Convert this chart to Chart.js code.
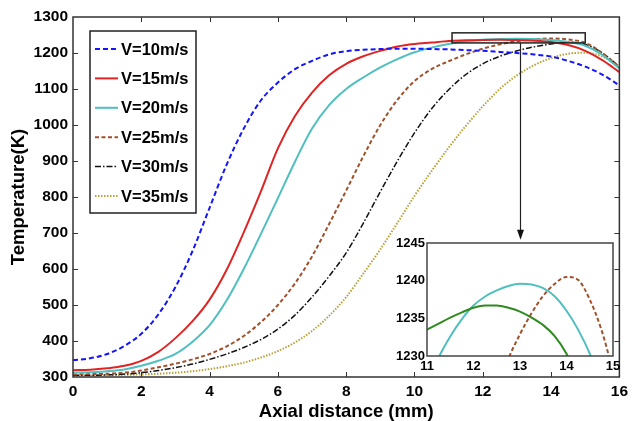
<!DOCTYPE html>
<html><head><meta charset="utf-8">
<script src="https://cdn.jsdelivr.net/npm/chart.js@4/dist/chart.umd.min.js"></script>
<style>
html,body{margin:0;padding:0;background:#fff;}
#wrap{position:relative;width:633px;height:421px;overflow:hidden;}
#main{position:absolute;left:0;top:0;}
#inset{position:absolute;left:380px;top:230px;}
</style></head><body>
<div id="wrap">
<canvas id="main" width="633" height="421"></canvas>
<canvas id="inset" width="250" height="146"></canvas>
</div>
<script>
// ---------- data ----------
const axialX = [0,0.5,1,1.5,2,2.5,3,3.5,4,4.5,5,5.5,6,6.5,7,7.5,8,8.5,9,9.5,10,10.5,11,11.5,12,12.5,13,13.5,14,14.5,15,15.5,16];
const v10 = [347,352,364,386,420,474,550,650,770,890,990,1068,1118,1155,1178,1196,1205,1209,1211,1212,1212,1211,1210,1208,1206,1203,1200,1196,1190,1178,1162,1140,1110];
const v15 = [319,320,324,331,345,370,408,455,515,598,702,815,935,1025,1090,1138,1170,1191,1206,1218,1225,1229,1233.5,1235.1,1236.4,1236.7,1235.9,1234.1,1230.3,1222,1206,1180,1147];
const v20 = [312,313,316,321,331,345,364,398,444,513,600,697,797,898,990,1055,1100,1132,1160,1183,1202,1215,1225,1232.6,1236.7,1238.7,1239.6,1239.0,1236.0,1230.3,1220,1195,1157];
const v25 = [307,308,309,312,318,327,337,349,364,385,414,452,500,560,635,725,818,913,1000,1070,1122,1155,1177,1196,1212,1224,1232.9,1238.0,1240.5,1237.5,1228,1200,1161];
const v30 = [305,305,306,308,312,318,326,336,349,364,382,404,433,472,522,580,645,727,815,900,978,1045,1098,1140,1170,1191,1206,1217,1225,1230,1224,1200,1162];
const v35 = [304,304,305,306,307,309,312,316,322,330,340,354,372,396,428,470,522,587,655,728,803,872,937,997,1052,1100,1138,1166,1186,1198,1201,1190,1163];
const seriesLabels = ['V=10m/s','V=15m/s','V=20m/s','V=25m/s','V=30m/s','V=35m/s'];
const xTicks = [0,2,4,6,8,10,12,14,16];
const yTicks = [300,400,500,600,700,800,900,1000,1100,1200,1300];

const insetX = [11,11.25,11.5,11.75,12,12.25,12.5,12.75,13,13.25,13.5,13.75,14,14.25,14.5,14.75,15];
const insetGreen = [1233.5,1234.3,1235.1,1235.8,1236.4,1236.7,1236.7,1236.4,1235.9,1235.1,1234.1,1232.6,1230.3,1227,1222,1214,1206];
const insetCyan  = [1226,1229.8,1232.6,1234.9,1236.7,1237.9,1238.7,1239.3,1239.6,1239.5,1239.0,1237.9,1236.0,1233.5,1230.3,1226,1220];
const insetBrown = [1175,1185,1193,1202,1214,1219,1225,1229.6,1232.9,1235.7,1238.0,1239.6,1240.5,1240.1,1237.5,1233.5,1228];
const insetXTicks = [11,12,13,14,15];
const insetYTicks = [1230,1235,1240,1245];

// zoom marker (data units)
const zoomBox = {x0:11.1, x1:15.0, y0:1228, y1:1256};
const arrowX = 13.1, arrowTipY = 681;

// ---------- styles ----------
const FONT = "'Liberation Sans', Arial, Helvetica, sans-serif";
const frameColor = '#333';
const styles = [
  {color:'#1414ff', width:2, dash:[5,3]},
  {color:'#e02424', width:2, dash:[]},
  {color:'#4fbfbf', width:2, dash:[]},
  {color:'#a0522d', width:2, dash:[4,2.5]},
  {color:'#111111', width:1.5, dash:[6,2,1.5,2]},
  {color:'#b8a23a', width:2, dash:[1.5,1.5]}
];
const pts = (xs, ys) => xs.map((x,i)=>({x, y: ys[i]}));
const mainSeries = [v10,v15,v20,v25,v30,v35];

const mainDatasets = mainSeries.map((s,i)=>({
  label: seriesLabels[i], data: pts(axialX, s),
  borderColor: styles[i].color, borderWidth: styles[i].width, borderDash: styles[i].dash,
  pointRadius: 0, fill: false, cubicInterpolationMode: 'monotone'
}));

function line(ctx,x0,y0,x1,y1){ctx.beginPath();ctx.moveTo(x0,y0);ctx.lineTo(x1,y1);ctx.stroke();}

const mainDecor = {
  id:'mainDecor',
  beforeDraw(chart){ const c=chart.ctx; c.save(); c.fillStyle='#fff'; c.fillRect(0,0,chart.width,chart.height); c.restore(); },
  afterDatasetsDraw(chart){
    const {ctx, chartArea:a, scales:{x,y}} = chart;
    ctx.save();
    ctx.strokeStyle = frameColor; ctx.lineWidth = 1; ctx.setLineDash([]);
    xTicks.forEach(v=>{ if(v===x.min||v===x.max) return; const p=Math.round(x.getPixelForValue(v))+0.5; line(ctx,p,a.bottom,p,a.bottom-5); line(ctx,p,a.top,p,a.top+5); });
    yTicks.forEach(v=>{ if(v===y.min||v===y.max) return; const p=Math.round(y.getPixelForValue(v))+0.5; line(ctx,a.left,p,a.left+5,p); line(ctx,a.right,p,a.right-5,p); });
    ctx.lineWidth = 1.5;
    ctx.strokeRect(a.left, a.top, a.right-a.left, a.bottom-a.top);
    // zoom box
    ctx.strokeStyle = '#222'; ctx.lineWidth = 1.5;
    const bx0=x.getPixelForValue(zoomBox.x0), bx1=x.getPixelForValue(zoomBox.x1);
    const by0=y.getPixelForValue(zoomBox.y0), by1=y.getPixelForValue(zoomBox.y1);
    ctx.strokeRect(bx0, by1, bx1-bx0, by0-by1);
    // arrow
    const ax=Math.round(x.getPixelForValue(arrowX))+0.5, tip=y.getPixelForValue(arrowTipY);
    ctx.lineWidth = 1.2;
    line(ctx, ax, by0, ax, tip-6);
    ctx.fillStyle='#111';
    ctx.beginPath(); ctx.moveTo(ax, tip); ctx.lineTo(ax-3.5, tip-10); ctx.lineTo(ax+3.5, tip-10); ctx.closePath(); ctx.fill();
    // legend
    const lx0=90, ly0=31, lw=106, lh=182;
    ctx.fillStyle='#fff'; ctx.fillRect(lx0,ly0,lw,lh);
    ctx.strokeStyle='#222'; ctx.lineWidth=1.5; ctx.strokeRect(lx0,ly0,lw,lh);
    ctx.font = "bold 16.5px " + FONT; ctx.textBaseline='middle'; ctx.textAlign='left';
    chart.data.datasets.forEach((d,i)=>{
      const yy = 49 + i*29.4;
      ctx.strokeStyle=d.borderColor; ctx.lineWidth=d.borderWidth; ctx.setLineDash(d.borderDash||[]);
      line(ctx, 95, yy, 118, yy);
      ctx.setLineDash([]);
      ctx.fillStyle='#000'; ctx.fillText(d.label, 121, yy+1);
    });
    ctx.restore();
  }
};

const tickFont = {family: FONT, size: 15.5, weight: 'bold'};
const titleFont = {family: FONT, size: 18.5, weight: 'bold', lineHeight: 1};

new Chart(document.getElementById('main'), {
  type:'line',
  data:{datasets: mainDatasets},
  options:{
    responsive:false, animation:false, devicePixelRatio:1,
    layout:{padding:{top:17,right:10,left:0,bottom:0}},
    plugins:{legend:{display:false}, tooltip:{enabled:false}},
    scales:{
      x:{type:'linear', min:0, max:16,
        afterBuildTicks(s){ s.ticks = xTicks.map(v=>({value:v})); },
        afterFit(s){ s.height = 44; },
        grid:{display:false, drawTicks:false}, border:{display:false},
        ticks:{font:tickFont, color:'#000', padding:5, maxRotation:0, autoSkip:false, callback:v=>String(v)},
        title:{display:true, text:'Axial distance (mm)', font:titleFont, color:'#000', padding:{top:0,bottom:0}}
      },
      y:{type:'linear', min:300, max:1300,
        afterBuildTicks(s){ s.ticks = yTicks.map(v=>({value:v})); },
        afterFit(s){ s.width = 73; },
        grid:{display:false, drawTicks:false}, border:{display:false},
        ticks:{font:tickFont, color:'#000', padding:5, autoSkip:false, callback:v=>String(v)},
        title:{display:true, text:'Temperature(K)', font:titleFont, color:'#000', padding:{top:10,bottom:0}}
      }
    }
  },
  plugins:[mainDecor]
});

// ---------- inset ----------
const insetDecor = {
  id:'insetDecor',
  beforeDatasetsDraw(chart){ const {ctx,chartArea:a}=chart; ctx.save(); ctx.fillStyle='#fff'; ctx.fillRect(a.left,a.top,a.right-a.left,a.bottom-a.top); ctx.restore(); },
  afterDatasetsDraw(chart){ const {ctx,chartArea:a}=chart; ctx.save(); ctx.strokeStyle='#444'; ctx.lineWidth=1.5; ctx.setLineDash([]); ctx.strokeRect(a.left,a.top,a.right-a.left,a.bottom-a.top); ctx.restore(); }
};
const insetTick = {family: FONT, size: 13, weight: 'bold'};
new Chart(document.getElementById('inset'), {
  type:'line',
  data:{datasets:[
    {data: pts(insetX, insetGreen), borderColor:'#2f8a1f', borderWidth:2, pointRadius:0, cubicInterpolationMode:'monotone'},
    {data: pts(insetX, insetCyan), borderColor:'#4fbfbf', borderWidth:2, pointRadius:0, cubicInterpolationMode:'monotone'},
    {data: pts(insetX, insetBrown), borderColor:'#a0522d', borderWidth:2, borderDash:[4,2.5], pointRadius:0, cubicInterpolationMode:'monotone'}
  ]},
  options:{
    responsive:false, animation:false, devicePixelRatio:1,
    layout:{padding:{top:13,right:17,left:0,bottom:0}},
    plugins:{legend:{display:false}, tooltip:{enabled:false}},
    scales:{
      x:{type:'linear', min:11, max:15,
        afterBuildTicks(s){ s.ticks = insetXTicks.map(v=>({value:v})); },
        afterFit(s){ s.height = 20; },
        grid:{display:false, drawTicks:false}, border:{display:false},
        ticks:{font:insetTick, color:'#000', padding:3, maxRotation:0, autoSkip:false, callback:v=>String(v)}
      },
      y:{type:'linear', min:1230, max:1245,
        afterBuildTicks(s){ s.ticks = insetYTicks.map(v=>({value:v})); },
        afterFit(s){ s.width = 47; },
        grid:{display:false, drawTicks:false}, border:{display:false},
        ticks:{font:insetTick, color:'#000', padding:2, autoSkip:false, callback:v=>String(v)}
      }
    }
  },
  plugins:[insetDecor]
});
</script>
</body></html>
